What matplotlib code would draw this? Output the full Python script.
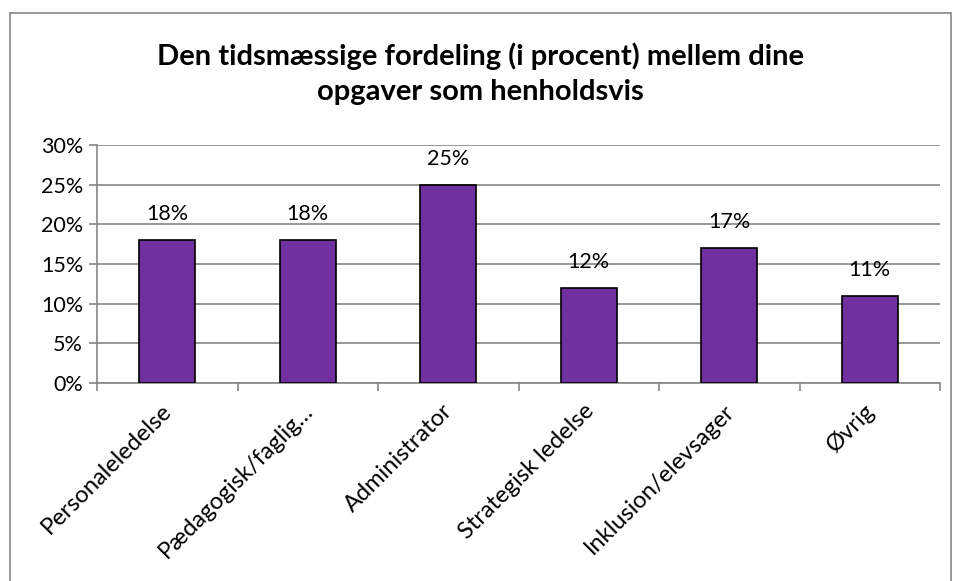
import matplotlib.pyplot as plt
import matplotlib.transforms as mtransforms
from matplotlib.patches import Rectangle
from matplotlib.ticker import FuncFormatter, FixedLocator

categories = ['Personaleledelse', 'Pædagogisk/faglig…', 'Administrator',
              'Strategisk ledelse', 'Inklusion/elevsager', 'Øvrig']
values = [18, 18, 25, 12, 17, 11]
title = 'Den tidsmæssige fordeling (i procent) mellem dine\nopgaver som henholdsvis'

plt.rcParams['font.family'] = ['Lato', 'DejaVu Sans']

fig = plt.figure(figsize=(9.61, 5.81), dpi=100)
ax = fig.add_axes([97 / 961, 1 - 383 / 581, 843 / 961, 238 / 581])

# outer chart border
fig.patches.append(Rectangle((10 / 961, -0.1), 941 / 961, 1.1 - 13 / 581,
                             transform=fig.transFigure, fill=False,
                             edgecolor='#868686', linewidth=1.2))

x = range(len(categories))
ax.bar(x, values, width=0.4, color='#7030A0', edgecolor='black', linewidth=1.2, zorder=3)
for xi, v in zip(x, values):
    ax.text(xi, v + 2.0, f'{v}%', ha='center', va='bottom', fontsize=15.5)

ax.set_xlim(-0.5, len(categories) - 0.5)
ax.set_ylim(0, 30)
ax.set_yticks(range(0, 31, 5))
ax.yaxis.set_major_formatter(FuncFormatter(lambda v, p: f'{v:.0f}%'))
ax.grid(axis='y', color='#868686', linewidth=1.2, zorder=0)

# slanted category labels, drawn as text so they can be nudged
ax.set_xticks([])
offset = mtransforms.ScaledTranslation(-6 / 100, -17 / 100, fig.dpi_scale_trans)
for xi, lab in zip(x, categories):
    ax.text(xi, 0, lab, rotation=45, ha='right', va='top', rotation_mode='anchor',
            fontsize=17, transform=ax.get_xaxis_transform() + offset)

ax.xaxis.set_minor_locator(FixedLocator([i - 0.5 for i in range(len(categories) + 1)]))
ax.tick_params(axis='x', which='minor', length=6, color='#868686', width=1.2)
ax.tick_params(axis='y', length=6, color='#868686', width=1.2, labelsize=15.5, pad=4)

for s in ['top', 'right']:
    ax.spines[s].set_visible(False)
for s in ['left', 'bottom']:
    ax.spines[s].set_color('#868686')
    ax.spines[s].set_linewidth(1.2)

fig.text(0.5, 1 - 73.5 / 581, title, ha='center', va='center', fontsize=21,
         fontweight='bold', linespacing=1.45)

fig.savefig('out.png', dpi=100)
